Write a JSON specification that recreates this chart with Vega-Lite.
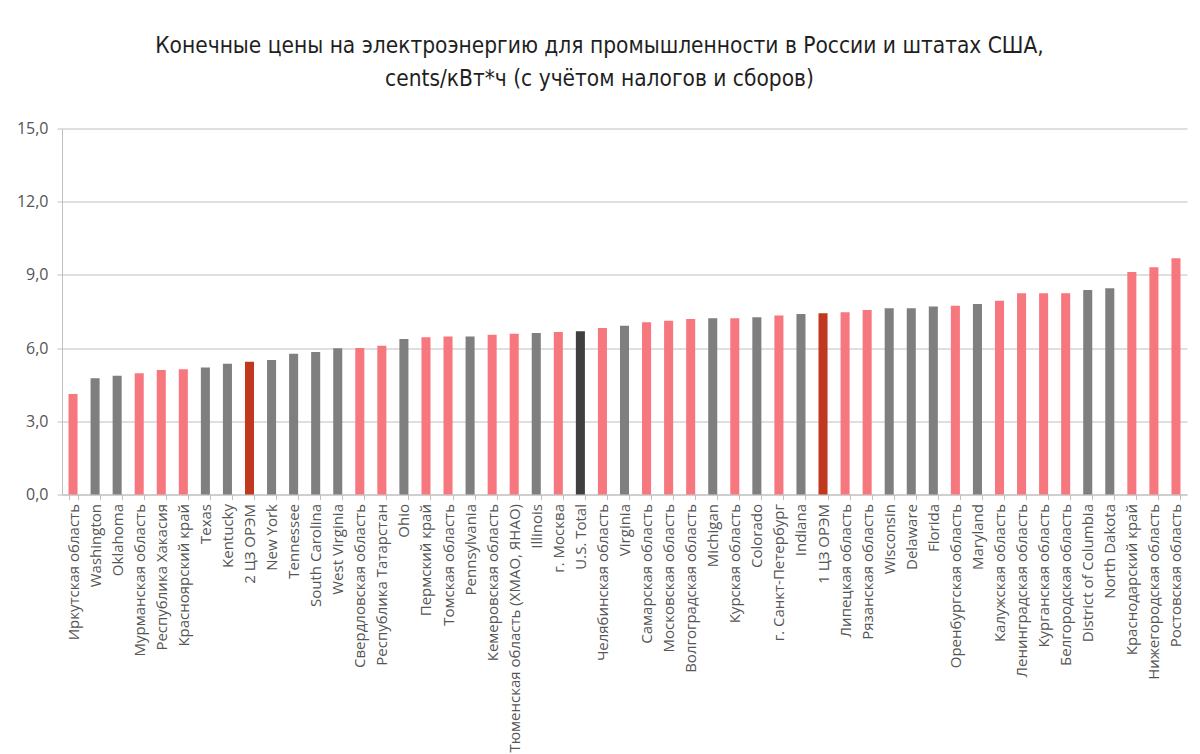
{
  "$schema": "https://vega.github.io/schema/vega-lite/v6.json",
  "width": 1125,
  "height": 366,
  "autosize": {"type": "none"},
  "padding": {"left": 62, "top": 128.5, "right": 13, "bottom": 259},
  "background": "white",
  "title": {
    "text": ["Конечные цены на электроэнергию для промышленности в России и штатах США,", "cents/кВт*ч (с учётом налогов и сборов)"],
    "font": "Liberation Sans Narrow, DejaVu Sans Condensed, Roboto",
    "fontSize": 22.5,
    "fontWeight": "normal",
    "color": "#1f1f1f",
    "lineHeight": 33,
    "anchor": "middle",
    "frame": "group",
    "dx": -25,
    "offset": 30
  },
  "data": {
    "values": [
      {"region": "Иркутская область", "price": 4.12, "group": "Россия"},
      {"region": "Washington", "price": 4.76, "group": "США"},
      {"region": "Oklahoma", "price": 4.87, "group": "США"},
      {"region": "Мурманская область", "price": 4.97, "group": "Россия"},
      {"region": "Республика Хакасия", "price": 5.1, "group": "Россия"},
      {"region": "Красноярский край", "price": 5.13, "group": "Россия"},
      {"region": "Texas", "price": 5.2, "group": "США"},
      {"region": "Kentucky", "price": 5.36, "group": "США"},
      {"region": "2 ЦЗ ОРЭМ", "price": 5.44, "group": "ЦЗ"},
      {"region": "New York", "price": 5.51, "group": "США"},
      {"region": "Tennessee", "price": 5.77, "group": "США"},
      {"region": "South Carolina", "price": 5.84, "group": "США"},
      {"region": "West Virginia", "price": 5.99, "group": "США"},
      {"region": "Свердловская область", "price": 6.0, "group": "Россия"},
      {"region": "Республика Татарстан", "price": 6.1, "group": "Россия"},
      {"region": "Ohio", "price": 6.37, "group": "США"},
      {"region": "Пермский край", "price": 6.44, "group": "Россия"},
      {"region": "Томская область", "price": 6.48, "group": "Россия"},
      {"region": "Pennsylvania", "price": 6.48, "group": "США"},
      {"region": "Кемеровская область", "price": 6.55, "group": "Россия"},
      {"region": "Тюменская область (ХМАО, ЯНАО)", "price": 6.59, "group": "Россия"},
      {"region": "Illinois", "price": 6.62, "group": "США"},
      {"region": "г. Москва", "price": 6.66, "group": "Россия"},
      {"region": "U.S. Total", "price": 6.69, "group": "US Total"},
      {"region": "Челябинская область", "price": 6.82, "group": "Россия"},
      {"region": "Virginia", "price": 6.92, "group": "США"},
      {"region": "Самарская область", "price": 7.06, "group": "Россия"},
      {"region": "Московская область", "price": 7.12, "group": "Россия"},
      {"region": "Волгоградская область", "price": 7.19, "group": "Россия"},
      {"region": "Michigan", "price": 7.22, "group": "США"},
      {"region": "Курская область", "price": 7.22, "group": "Россия"},
      {"region": "Colorado", "price": 7.26, "group": "США"},
      {"region": "г. Санкт-Петербург", "price": 7.34, "group": "Россия"},
      {"region": "Indiana", "price": 7.4, "group": "США"},
      {"region": "1 ЦЗ ОРЭМ", "price": 7.43, "group": "ЦЗ"},
      {"region": "Липецкая область", "price": 7.47, "group": "Россия"},
      {"region": "Рязанская область", "price": 7.56, "group": "Россия"},
      {"region": "Wisconsin", "price": 7.63, "group": "США"},
      {"region": "Delaware", "price": 7.63, "group": "США"},
      {"region": "Florida", "price": 7.7, "group": "США"},
      {"region": "Оренбургская область", "price": 7.74, "group": "Россия"},
      {"region": "Maryland", "price": 7.81, "group": "США"},
      {"region": "Калужская область", "price": 7.94, "group": "Россия"},
      {"region": "Ленинградская область", "price": 8.25, "group": "Россия"},
      {"region": "Курганская область", "price": 8.25, "group": "Россия"},
      {"region": "Белгородская область", "price": 8.25, "group": "Россия"},
      {"region": "District of Columbia", "price": 8.38, "group": "США"},
      {"region": "North Dakota", "price": 8.45, "group": "США"},
      {"region": "Краснодарский край", "price": 9.12, "group": "Россия"},
      {"region": "Нижегородская область", "price": 9.31, "group": "Россия"},
      {"region": "Ростовская область", "price": 9.68, "group": "Россия"}
    ]
  },
  "mark": {"type": "bar"},
  "encoding": {
    "x": {
      "field": "region",
      "type": "nominal",
      "sort": null,
      "scale": {"paddingInner": 0.59, "paddingOuter": 0.295},
      "axis": {
        "title": null,
        "labelAngle": -90,
        "labelFont": "Open Sans",
        "labelFontSize": 15,
        "labelColor": "#555555",
        "labelPadding": 4,
        "tickBand": "extent",
        "tickSize": 5,
        "tickColor": "#BFBFBF",
        "domainColor": "#BFBFBF",
        "labelOverlap": false,
        "labelLimit": 300
      }
    },
    "y": {
      "field": "price",
      "type": "quantitative",
      "scale": {"domain": [0, 15], "nice": false},
      "axis": {
        "title": null,
        "values": [0, 3, 6, 9, 12, 15],
        "labelExpr": "replace(format(datum.value, '.1f'), '.', ',')",
        "labelFont": "Open Sans",
        "labelFontSize": 16,
        "labelColor": "#555555",
        "labelPadding": 9,
        "tickSize": 5,
        "tickColor": "#BFBFBF",
        "domain": true,
        "domainColor": "#BFBFBF",
        "gridColor": "#BFBFBF",
        "gridWidth": 1.2
      }
    },
    "color": {
      "field": "group",
      "type": "nominal",
      "scale": {
        "domain": ["Россия", "США", "ЦЗ", "US Total"],
        "range": ["#F7777F", "#7F7F7F", "#C0391F", "#3F3F3F"]
      },
      "legend": null
    }
  },
  "config": {"view": {"stroke": null}}
}
